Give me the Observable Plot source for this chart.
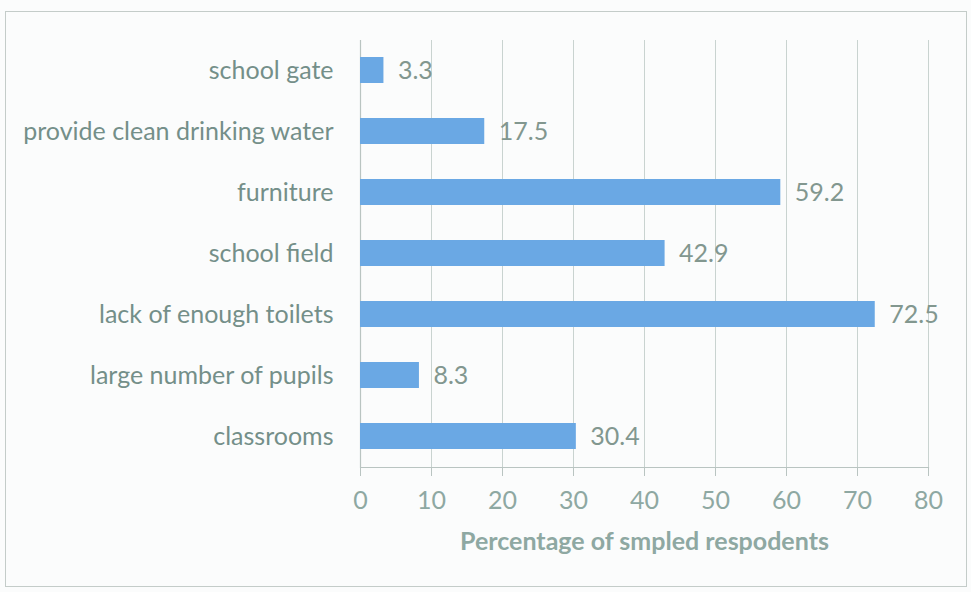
<!DOCTYPE html>
<html><head><meta charset="utf-8">
<script src="https://cdn.jsdelivr.net/npm/d3@7"></script>
<script src="https://cdn.jsdelivr.net/npm/@observablehq/plot@0.6"></script>
<style>
html,body{margin:0;padding:0;background:#fff;}
#wrap{position:relative;width:971px;height:592px;background:#fbfcfc;}
#frame{position:absolute;left:5px;top:11px;width:962px;height:576px;border:1.5px solid #c4ccc9;box-sizing:border-box;}
</style></head>
<body><div id="wrap"><div id="frame"></div></div>
<script>
const categories = ["school gate","provide clean drinking water","furniture","school field","lack of enough toilets","large number of pupils","classrooms"];
const values = [3.3, 17.5, 59.2, 42.9, 72.5, 8.3, 30.4];
const xTicks = [0,10,20,30,40,50,60,70,80];
const axisTitle = "Percentage of smpled respodents";

const data = categories.map((c,i)=>({category:c, value:values[i]}));
const textColor = "#748f89";
const tickColor = "#8ea8a2";

const chart = Plot.plot({
  width: 971, height: 592,
  marginLeft: 360, marginRight: 43, marginTop: 40, marginBottom: 125,
  style: {fontFamily: "Lato, 'Open Sans', sans-serif", background: "transparent"},
  x: {domain: [0, 80], ticks: xTicks},
  y: {domain: categories, paddingInner: 0.57, paddingOuter: 0.285, label: null},
  marks: [
    Plot.gridX(xTicks, {stroke: "#c9d3d0", strokeOpacity: 1, strokeWidth: 1}),
    Plot.frame({anchor: "bottom", stroke: "#b9c4c1", strokeWidth: 1.2}),
    Plot.ruleX([0], {stroke: "#b9c4c1", strokeWidth: 1.2}),
    Plot.barX(data, {x: "value", y: "category", fill: "#6aa8e4"}),
    Plot.text(data, {x: "value", y: "category", text: d => d.value.toFixed(1), textAnchor: "start", dx: 14, fontSize: 25, fill: "#82978f"}),
    Plot.axisY({tickSize: 0, tickPadding: 27, fontSize: 25, fill: textColor, label: null}),
    Plot.axisX(xTicks, {tickSize: 9, tickPadding: 15, fontSize: 25, fill: tickColor, stroke: "#b9c4c1", label: null}),
    Plot.text([axisTitle], {frameAnchor: "bottom", dy: 82, fontSize: 25, fontWeight: "bold", fill: tickColor})
  ]
});
document.getElementById("wrap").appendChild(chart);
chart.style.position = "absolute";
chart.style.left = "0px";
chart.style.top = "0px";
</script></body></html>
